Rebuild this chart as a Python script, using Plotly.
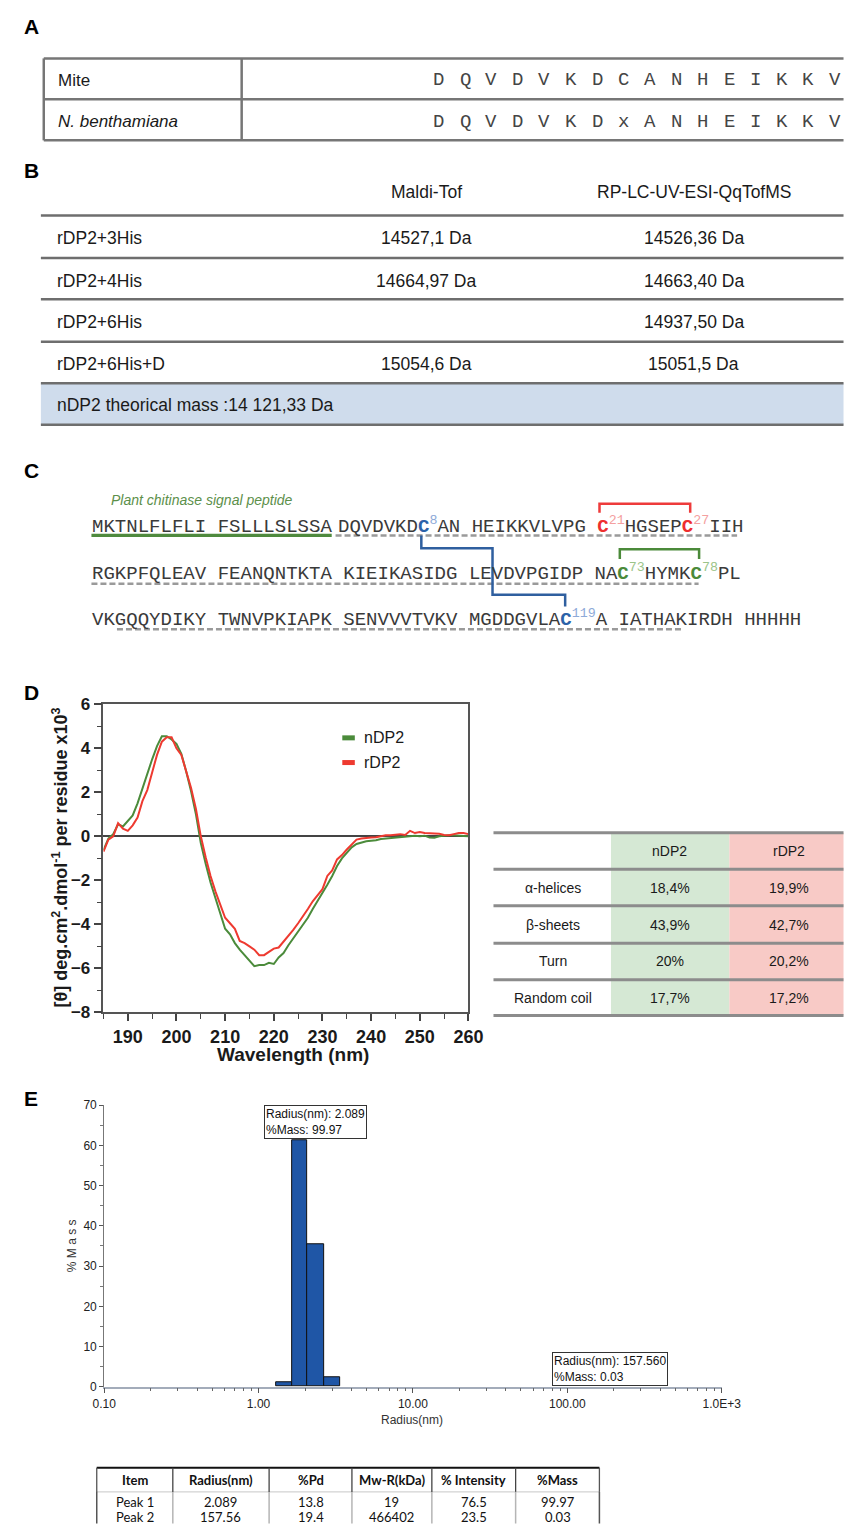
import math
import plotly.graph_objects as go

W, H = 864, 1534


def X(px):
    return px / W


def Y(py):
    return 1 - py / H


ARIAL = "Liberation Sans, Arial, Helvetica, sans-serif"
MONO = "Liberation Mono, Courier New, monospace"
CALIBRI = "Lato, Carlito, Calibri, sans-serif"
TXT = "#1a1a1a"
RIGHT = 863.5

# ============================ DATA ============================
# Panel A
a_species = ["Mite", "N. benthamiana"]
a_sequences = ["DQVDVKDCANHEIKKV", "DQVDVKDxANHEIKKV"]

# Panel B
b_methods = ["Maldi-Tof", "RP-LC-UV-ESI-QqTofMS"]
b_constructs = ["rDP2+3His", "rDP2+4His", "rDP2+6His", "rDP2+6His+D"]
b_maldi_tof = ["14527,1 Da", "14664,97 Da", "", "15054,6 Da"]
b_esi_qtof = ["14526,36 Da", "14663,40 Da", "14937,50 Da", "15051,5 Da"]
b_theoretical = "nDP2 theorical mass :14 121,33 Da"

# Panel C
c_signal_label = "Plant chitinase signal peptide"
c_signal_peptide = "MKTNLFLFLI" + "FSLLLSLSSA"
c_mature_blocks = ["DQVDVKDCAN", "HEIKKVLVPG", "CHGSEPCIIH", "RGKPFQLEAV", "FEANQNTKTA",
                   "KIEIKASIDG", "LEVDVPGIDP", "NACHYMKCPL", "VKGQQYDIKY", "TWNVPKIAPK",
                   "SENVVVTVKV", "MGDDGVLACA", "IATHAKIRDH", "HHHHH"]
c_disulfide_pairs = [(8, 119, "blue"), (21, 27, "red"), (73, 78, "green")]

# Panel D (CD spectra)
d_wavelength_nm = [185, 186, 187, 188, 189, 190, 191, 192, 193, 194, 195, 196, 197, 198, 199,
                   200, 201, 202, 203, 204, 205, 206, 207, 208, 209, 210, 211, 212, 213, 214,
                   215, 216, 217, 218, 219, 220, 221, 222, 223, 224, 225, 226, 227, 228, 229,
                   230, 231, 232, 233, 234, 235, 236, 237, 238, 239, 240, 241, 242, 243, 244,
                   245, 246, 247, 248, 249, 250, 251, 252, 253, 254, 255, 256, 257, 258, 259, 260]
d_nDP2 = [-0.63, -0.1, 0.1, 0.55, 0.45, 0.7, 0.95, 1.5, 2.2, 2.9, 3.5, 4.1, 4.55, 4.55, 4.4,
          4.2, 3.75, 2.95, 2.05, 1.0, -0.3, -1.25, -2.1, -2.8, -3.45, -4.2, -4.45, -4.85, -5.15, -5.4,
          -5.65, -5.9, -5.85, -5.85, -5.75, -5.8, -5.5, -5.3, -4.95, -4.65, -4.35, -4.05, -3.7, -3.3, -2.95,
          -2.6, -2.2, -1.8, -1.35, -1.0, -0.75, -0.5, -0.35, -0.28, -0.22, -0.2, -0.18, -0.12, -0.1, -0.08,
          -0.06, -0.05, -0.03, 0.02, 0.03, 0.0, 0.03, -0.05, -0.06, 0.0, 0.04, 0.05, 0.05, 0.05, 0.02, 0.0]
d_rDP2 = [-0.7, -0.15, 0.0, 0.6, 0.35, 0.25, 0.5, 0.85, 1.6, 2.1, 2.9, 3.7, 4.3, 4.5, 4.5,
          4.0, 3.7, 3.0, 2.2, 1.25, 0.0, -0.95, -1.8, -2.5, -3.1, -3.7, -3.95, -4.2, -4.75, -4.85,
          -5.0, -5.15, -5.4, -5.4, -5.25, -5.1, -5.05, -4.8, -4.55, -4.25, -3.95, -3.65, -3.3, -2.95, -2.65,
          -2.4, -1.8, -1.55, -1.05, -0.85, -0.6, -0.35, -0.15, -0.1, -0.06, -0.05, -0.04, 0.0, 0.05, 0.05,
          0.08, 0.1, 0.06, 0.25, 0.15, 0.2, 0.15, 0.15, 0.14, 0.12, 0.06, 0.05, 0.1, 0.15, 0.15, 0.1]
d_series_names = ["nDP2", "rDP2"]
d_struct_labels = ["α-helices", "β-sheets", "Turn", "Random coil"]
d_struct_nDP2 = ["18,4%", "43,9%", "20%", "17,7%"]
d_struct_rDP2 = ["19,9%", "42,7%", "20,2%", "17,2%"]

# Panel E (DLS)
e_bin_edges_nm = [1.30, 1.64, 2.08, 2.65, 3.36]
e_mass_pct = [1.0, 61.2, 35.5, 2.4]
e_xtick_nm = [0.1, 1, 10, 100, 1000]
e_xtick_text = ["0.10", "1.00", "10.00", "100.00", "1.0E+3"]
e_peak_boxes = [("2.089", "99.97"), ("157.560", "0.03")]
e_table_header = ["Item", "Radius(nm)", "%Pd", "Mw-R(kDa)", "% Intensity", "%Mass"]
e_table_rows = [["Peak 1", "2.089", "13.8", "19", "76.5", "99.97"],
                ["Peak 2", "157.56", "19.4", "466402", "23.5", "0.03"]]

# ============================ HELPERS ============================
shapes = []
annotations = []


def line(x0, y0, x1, y1, color, width, dash=None):
    d = dict(color=color, width=width)
    if dash:
        d["dash"] = dash
    shapes.append(dict(type="line", xref="paper", yref="paper",
                       x0=X(x0), y0=Y(y0), x1=X(x1), y1=Y(y1), line=d))


def rect(x0, y0, x1, y1, fill=None, lc=None, lw=0):
    shapes.append(dict(type="rect", xref="paper", yref="paper", layer="below",
                       x0=X(x0), y0=Y(y0), x1=X(x1), y1=Y(y1),
                       fillcolor=fill if fill else "rgba(0,0,0,0)",
                       line=dict(color=lc if lc else "rgba(0,0,0,0)", width=lw)))


def path(points, color, width):
    p = "M " + " L ".join(f"{X(a):.5f},{Y(b):.5f}" for a, b in points)
    shapes.append(dict(type="path", xref="paper", yref="paper", path=p,
                       line=dict(color=color, width=width)))


def txt(x, y, s, size, color=TXT, family=ARIAL, xanchor="left", yanchor="middle",
        weight="normal", style="normal", **kw):
    d = dict(text=s, x=X(x), y=Y(y), xref="paper", yref="paper", showarrow=False,
             xanchor=xanchor, yanchor=yanchor, borderpad=0,
             font=dict(family=family, size=size, color=color, weight=weight, style=style))
    d.update(kw)
    annotations.append(d)


# panel letters
for lab, yy in zip(["A", "B", "C", "D", "E"], [18, 164, 467, 692, 1103]):
    txt(11, yy, lab, 21, color="#000", weight="bold")

# ============================ PANEL A ============================
GRID = "#767676"
line(33, 50, 33, 133, GRID, 2.5)
line(33, 50, RIGHT, 50, GRID, 2.5)
line(33, 133, RIGHT, 133, GRID, 2.5)
line(33, 91.5, RIGHT, 91.5, GRID, 2.5)
line(238.5, 50, 238.5, 133, GRID, 2.5)
for i, (sp, seq) in enumerate(zip(a_species, a_sequences)):
    yy = 72 + i * 42
    txt(47, yy, sp, 17, style="italic" if i == 1 else "normal")
    for j, ch in enumerate(seq):
        txt(443 + j * 27.43, yy, ch, 19, color="#454545", family=MONO, xanchor="center")

# ============================ PANEL B ============================
B_LINE = "#6e6e6e"
FS_B = 17.5
rect(30, 379, RIGHT, 421, fill="#cfdcec")
for yy in [209, 252, 294, 337, 379, 421]:
    line(30, yy, RIGHT, yy, B_LINE, 2.5)
txt(430, 185, b_methods[0], FS_B, xanchor="center")
txt(708, 185, b_methods[1], FS_B, xanchor="center")
for i, (c, m1, m2) in enumerate(zip(b_constructs, b_maldi_tof, b_esi_qtof)):
    yy = [232, 275, 317, 359][i]
    txt(46, yy, c, FS_B)
    if m1:
        txt(430, yy, m1, FS_B, xanchor="center")
    txt(708, yy, m2, FS_B, xanchor="center")
txt(46, 401, b_theoretical, FS_B)

# ============================ PANEL C ============================
FS_C = 19.05
PITCH = 0.622 * FS_C
SUP = PITCH * 0.7
CYS_COL = {"blue": ("#2c62a8", "#8eaad8"), "red": ("#ee2e2e", "#f4a0a0"),
           "green": ("#4b8a3a", "#9bc489")}
cys_color = {}
for a, b, col in c_disulfide_pairs:
    cys_color[a] = col
    cys_color[b] = col
full = c_signal_peptide + "".join(c_mature_blocks)
n_sig = len(c_signal_peptide)
cys_x = {}


def build_segment(start, end, x0, line_start):
    html = ""
    x = x0
    for k in range(start, end):
        if k != start and (k - line_start) % 10 == 0:
            html += " "
            x += PITCH
        ch = full[k]
        num = k - n_sig + 1
        if ch == "C" and k >= n_sig and num in cys_color:
            c1, c2 = CYS_COL[cys_color[num]]
            html += (f"<span style='color:{c1}'><b>C</b></span>"
                     f"<sup><span style='color:{c2}'>{num}</span></sup>")
            cys_x[num] = x + PITCH / 2
            x += PITCH + SUP * len(str(num))
        else:
            html += ch
            x += PITCH
    return html


X0C = 82.2
segments = [(0, 20, X0C, 0, 521), (20, 50, 337.2, 0, 521),
            (50, 100, X0C, 50, 569), (100, 155, X0C, 100, 615)]
for s, e, x0, ls, yy in segments:
    html = build_segment(s, e, x0, ls)
    txt(x0, yy + 15.5, html, FS_C, color="#3a3a3a", family=MONO, yanchor="bottom")

txt(102, 497, c_signal_label, 14, color="#5c8f4a", style="italic")
# underlines
line(82.5, 533, 332, 533, "#4f8a3e", 3.2)
DASH = "6px,3px"
line(336, 533, 753, 533, "#9a9a9a", 2.5, DASH)
line(82.5, 582, 713, 582, "#9a9a9a", 2.5, DASH)
line(109, 628, 696, 628, "#9a9a9a", 2.5, DASH)
# disulfide bridges
path([(cys_x[21] - 2, 510), (cys_x[21] - 2, 501), (cys_x[27] + 4.5, 501), (cys_x[27] + 4.5, 510)],
     "#ee3b3b", 2.5)
path([(cys_x[73] - 2, 557), (cys_x[73] - 2, 547), (cys_x[78] + 4.5, 547), (cys_x[78] + 4.5, 557)],
     "#4b8a3a", 2.5)
path([(cys_x[8] - 1, 533), (cys_x[8] - 1, 546), (499, 546), (499, 593),
      (cys_x[119] + 0.5, 593), (cys_x[119] + 0.5, 605)], "#2f5f9f", 2.5)

# ============================ PANEL D ============================
GREEN = "#4b8b3b"
RED = "#ee3a30"
fig = go.Figure()
fig.add_trace(go.Scatter(x=d_wavelength_nm, y=d_nDP2, mode="lines", name=d_series_names[0],
                         line=dict(color=GREEN, width=2), xaxis="x", yaxis="y", showlegend=False))
fig.add_trace(go.Scatter(x=d_wavelength_nm, y=d_rDP2, mode="lines", name=d_series_names[1],
                         line=dict(color=RED, width=2), xaxis="x", yaxis="y", showlegend=False))
# legend
for i, (nm, col) in enumerate(zip(d_series_names, [GREEN, RED])):
    yy = 738 + i * 25
    line(343, yy, 356, yy, col, 5)
    txt(364, yy, nm, 16)
# axis titles
txt(292, 1059, "Wavelength (nm)", 19, xanchor="center", weight="bold")
txt(50, 859, "[θ] deg.cm<sup>2</sup>.dmol<sup>-1</sup> per residue x10<sup>3</sup>", 18,
    xanchor="center", textangle=-90, weight="bold")

# secondary structure table
FS_T = 14
rect(622, 834, 745, 1019, fill="#d5e8d4")
rect(745, 834, RIGHT, 1019, fill="#f8cac6")
for yy in [834, 871, 908, 946, 983, 1019]:
    line(500, yy, RIGHT, yy, "#8c8c8c", 3)
txt(683, 853, d_series_names[0], FS_T, xanchor="center")
txt(807, 853, d_series_names[1], FS_T, xanchor="center")
for i, (lab, v1, v2) in enumerate(zip(d_struct_labels, d_struct_nDP2, d_struct_rDP2)):
    yy = [890, 927, 964, 1001][i]
    txt(562, yy, lab, FS_T, xanchor="center")
    txt(683, yy, v1, FS_T, xanchor="center")
    txt(807, yy, v2, FS_T, xanchor="center")

# ============================ PANEL E ============================
edges_log = [math.log10(v) for v in e_bin_edges_nm]
centers_log = [(a + b) / 2 for a, b in zip(edges_log[:-1], edges_log[1:])]
widths_log = [b - a for a, b in zip(edges_log[:-1], edges_log[1:])]
fig.add_trace(go.Bar(x=centers_log, y=e_mass_pct, width=widths_log, xaxis="x2", yaxis="y2",
                     marker=dict(color="#1f56a6", line=dict(color="#111", width=1)),
                     showlegend=False))
minor_vals = [math.log10(m * 10 ** d) for d in range(-1, 3) for m in range(2, 10)]

for (r, m), (bx, by) in zip(e_peak_boxes, [(262, 1110), (561, 1360)]):
    annotations.append(dict(text=f"Radius(nm): {r}<br>%Mass: {m}", x=X(bx), y=Y(by),
                            xref="paper", yref="paper", xanchor="left", yanchor="top",
                            align="left", showarrow=False, bgcolor="white",
                            bordercolor="#333", borderwidth=1, borderpad=1,
                            font=dict(family=ARIAL, size=12, color="#111")))
txt(63, 1252, "% M a s s", 12, color="#333", xanchor="center", textangle=-90)
txt(415, 1429, "Radius(nm)", 12, color="#333", xanchor="center")

# DLS table
cols = [88, 167, 267, 353, 436, 523, 610]
line(88, 1477, 610, 1477, "#111", 2)
line(88, 1501.5, 610, 1501.5, "#c8c8c8", 1)
for i, cx in enumerate(cols):
    outer = i in (0, len(cols) - 1)
    line(cx, 1477, cx, 1501.5, "#555" if outer else "#444", 1.3)
    line(cx, 1501.5, cx, 1533.5, "#555" if outer else "#b5b5b5", 1.5)
for j, h in enumerate(e_table_header):
    cx = (cols[j] + cols[j + 1]) / 2
    txt(cx, 1489, h, 13, color="#111", family=CALIBRI, xanchor="center", weight="bold")
for r, row in enumerate(e_table_rows):
    yy = [1512, 1527][r]
    for j, v in enumerate(row):
        cx = (cols[j] + cols[j + 1]) / 2
        txt(cx, yy, v, 13, color="#111", family=CALIBRI, xanchor="center")

# ============================ LAYOUT ============================
fig.update_layout(
    width=W, height=H, autosize=False, margin=dict(l=0, r=0, t=0, b=0, pad=0),
    paper_bgcolor="white", plot_bgcolor="rgba(0,0,0,0)", showlegend=False,
    bargap=0,
    xaxis=dict(domain=[X(95), X(474)], range=[185, 260], anchor="y",
               showline=True, mirror=True, linecolor="#555", linewidth=1.5,
               ticks="outside", ticklen=7, tickwidth=1.5, tickcolor="#444",
               tick0=190, dtick=10,
               minor=dict(ticks="outside", tick0=185, dtick=5, ticklen=5,
                          tickcolor="#444", tickwidth=1.2),
               showgrid=False, zeroline=False,
               tickfont=dict(family=ARIAL, size=18, color=TXT, weight="bold")),
    yaxis=dict(domain=[Y(1016), Y(704)], range=[-8, 6], anchor="x",
               showline=True, mirror=True, linecolor="#555", linewidth=1.5,
               ticks="outside", ticklen=8, tickwidth=1.5, tickcolor="#444",
               tick0=0, dtick=2,
               minor=dict(ticks="outside", dtick=1, ticklen=5, tickcolor="#444",
                          tickwidth=1.2),
               showgrid=False, zeroline=True, zerolinecolor="#444", zerolinewidth=1.5,
               tickfont=dict(family=ARIAL, size=17, color=TXT, weight="bold")),
    xaxis2=dict(domain=[X(95.7), X(737)], range=[-1, 3], anchor="y2",
                tickmode="array", tickvals=[math.log10(v) for v in e_xtick_nm],
                ticktext=e_xtick_text,
                showline=True, linecolor="#a3acba", linewidth=1.5,
                ticks="outside", ticklen=5, tickwidth=1, tickcolor="#555",
                minor=dict(tickmode="array", tickvals=minor_vals, ticks="outside",
                           ticklen=3, tickcolor="#666", tickwidth=1),
                showgrid=False, zeroline=False,
                tickfont=dict(family=ARIAL, size=12, color="#222")),
    yaxis2=dict(domain=[Y(1395), Y(1110)], range=[0, 70], anchor="x2",
                showline=True, linecolor="#777", linewidth=1,
                ticks="outside", ticklen=4, tickwidth=1, tickcolor="#555",
                dtick=10, minor=dict(ticks="outside", dtick=5, ticklen=3,
                                     tickcolor="#777", tickwidth=1),
                showgrid=False, zeroline=False,
                tickfont=dict(family=ARIAL, size=12, color="#222")),
    shapes=shapes, annotations=annotations,
)

fig.write_html("out.html")
